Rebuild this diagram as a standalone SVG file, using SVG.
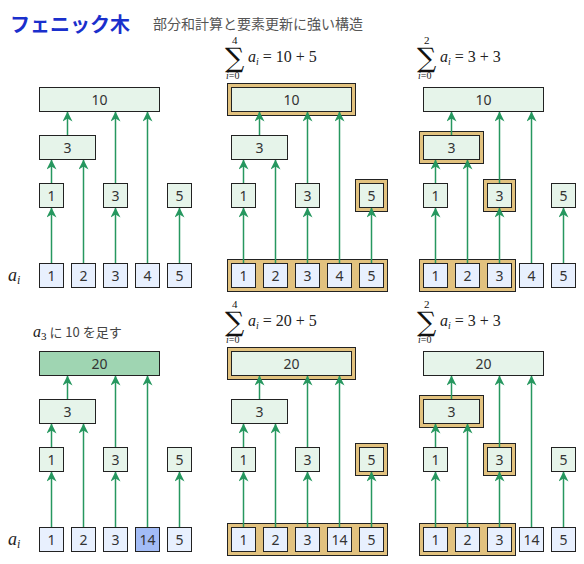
<svg xmlns="http://www.w3.org/2000/svg" width="584" height="564" viewBox="0 0 584 564">
<defs>
<marker id="ah" viewBox="0 0 10 10" refX="10" refY="5" markerWidth="10" markerHeight="10" markerUnits="userSpaceOnUse" orient="auto">
<path d="M0,0 L10,5 L0,10 L3,5 z" fill="#26975f"/>
</marker>
<style>
.n rect{fill:#e6f4ea;stroke:#222;stroke-width:1}
.lf rect{fill:#e8f0fe;stroke:#222;stroke-width:1}
.lf.hot rect{fill:#a3bcf6}
.n.hot rect{fill:#9fd5b2}
.n text,.lf text{font-family:"Noto Sans","DejaVu Sans",sans-serif;font-size:14px;fill:#333;text-anchor:middle}
.hl{fill:#e2c27f;stroke:#222;stroke-width:1}
.c line{stroke:#26975f;stroke-width:1.5;marker-end:url(#ah)}
.m{font-family:"Liberation Serif","DejaVu Serif",serif;fill:#111}
.sg{font-family:"DejaVu Serif",serif;fill:#111}
.mi{font-family:"Liberation Serif","DejaVu Serif",serif;font-style:italic;fill:#222}
.up{font-style:normal}
</style>
</defs>
<rect width="584" height="564" fill="#fff"/>
<text x="10" y="32" font-family="'Noto Sans CJK JP',sans-serif" font-size="20" font-weight="bold" fill="#1a2fcc">フェニック木</text>
<text x="153" y="29" font-family="'Noto Sans CJK JP',sans-serif" font-size="14" fill="#555">部分和計算と要素更新に強い構造</text>

<text class="mi" x="8" y="281" font-size="18">a<tspan font-size="12" dy="3">i</tspan></text>
<text class="mi" x="8" y="545" font-size="18">a<tspan font-size="12" dy="3">i</tspan></text>

<text x="33" y="337" font-family="'Noto Sans CJK JP',sans-serif" font-size="13" fill="#444"><tspan class="mi" font-size="16">a</tspan><tspan class="m" font-size="11" dy="3">3</tspan><tspan dy="-3"> に 10 を足す</tspan></text>

<g id="math1">
<text class="sg" x="225" y="67" font-size="27">∑</text>
<text class="m" x="232" y="44" font-size="11">4</text>
<text class="mi" x="226" y="79" font-size="10">i<tspan class="up">=0</tspan></text>
<text class="mi" x="248" y="62" font-size="16">a<tspan font-size="10" dy="3">i</tspan><tspan class="up" dy="-3" dx="4">= 10 + 5</tspan></text>
</g>
<g id="math2">
<text class="sg" x="417" y="67" font-size="27">∑</text>
<text class="m" x="424" y="44" font-size="11">2</text>
<text class="mi" x="418" y="79" font-size="10">i<tspan class="up">=0</tspan></text>
<text class="mi" x="440" y="62" font-size="16">a<tspan font-size="10" dy="3">i</tspan><tspan class="up" dy="-3" dx="4">= 3 + 3</tspan></text>
</g>
<g id="math3">
<text class="sg" x="225" y="331" font-size="27">∑</text>
<text class="m" x="232" y="308" font-size="11">4</text>
<text class="mi" x="226" y="343" font-size="10">i<tspan class="up">=0</tspan></text>
<text class="mi" x="248" y="326" font-size="16">a<tspan font-size="10" dy="3">i</tspan><tspan class="up" dy="-3" dx="4">= 20 + 5</tspan></text>
</g>
<g id="math4">
<text class="sg" x="417" y="331" font-size="27">∑</text>
<text class="m" x="424" y="308" font-size="11">2</text>
<text class="mi" x="418" y="343" font-size="10">i<tspan class="up">=0</tspan></text>
<text class="mi" x="440" y="326" font-size="16">a<tspan font-size="10" dy="3">i</tspan><tspan class="up" dy="-3" dx="4">= 3 + 3</tspan></text>
</g>

<!-- highlights -->
<g id="highlights">
<rect class="hl" x="227.5" y="83.5" width="128" height="32"/>
<rect class="hl" x="355.5" y="179.5" width="32" height="32"/>
<rect class="hl" x="227.5" y="259.5" width="160" height="32"/>
<rect class="hl" x="419.5" y="131.5" width="64" height="32"/>
<rect class="hl" x="483.5" y="179.5" width="32" height="32"/>
<rect class="hl" x="419.5" y="259.5" width="96" height="32"/>
<rect class="hl" x="227.5" y="347.5" width="128" height="32"/>
<rect class="hl" x="355.5" y="443.5" width="32" height="32"/>
<rect class="hl" x="227.5" y="523.5" width="160" height="32"/>
<rect class="hl" x="419.5" y="395.5" width="64" height="32"/>
<rect class="hl" x="483.5" y="443.5" width="32" height="32"/>
<rect class="hl" x="419.5" y="523.5" width="96" height="32"/>
</g>

<!-- connectors -->
<g id="connectors" class="c">
<g transform="translate(0,0)">
<line x1="51.5" y1="263.5" x2="51.5" y2="207.5"/><line x1="51.5" y1="183.5" x2="51.5" y2="159.5"/><line x1="83.5" y1="263.5" x2="83.5" y2="159.5"/><line x1="67.5" y1="135.5" x2="67.5" y2="111.5"/><line x1="115.5" y1="263.5" x2="115.5" y2="207.5"/><line x1="115.5" y1="183.5" x2="115.5" y2="111.5"/><line x1="147.5" y1="263.5" x2="147.5" y2="111.5"/><line x1="179.5" y1="263.5" x2="179.5" y2="207.5"/>
</g>
<g transform="translate(192,0)">
<line x1="51.5" y1="263.5" x2="51.5" y2="207.5"/><line x1="51.5" y1="183.5" x2="51.5" y2="159.5"/><line x1="83.5" y1="263.5" x2="83.5" y2="159.5"/><line x1="67.5" y1="135.5" x2="67.5" y2="111.5"/><line x1="115.5" y1="263.5" x2="115.5" y2="207.5"/><line x1="115.5" y1="183.5" x2="115.5" y2="111.5"/><line x1="147.5" y1="263.5" x2="147.5" y2="111.5"/><line x1="179.5" y1="263.5" x2="179.5" y2="207.5"/>
</g>
<g transform="translate(384,0)">
<line x1="51.5" y1="263.5" x2="51.5" y2="207.5"/><line x1="51.5" y1="183.5" x2="51.5" y2="159.5"/><line x1="83.5" y1="263.5" x2="83.5" y2="159.5"/><line x1="67.5" y1="135.5" x2="67.5" y2="111.5"/><line x1="115.5" y1="263.5" x2="115.5" y2="207.5"/><line x1="115.5" y1="183.5" x2="115.5" y2="111.5"/><line x1="147.5" y1="263.5" x2="147.5" y2="111.5"/><line x1="179.5" y1="263.5" x2="179.5" y2="207.5"/>
</g>
<g transform="translate(0,264)">
<line x1="51.5" y1="263.5" x2="51.5" y2="207.5"/><line x1="51.5" y1="183.5" x2="51.5" y2="159.5"/><line x1="83.5" y1="263.5" x2="83.5" y2="159.5"/><line x1="67.5" y1="135.5" x2="67.5" y2="111.5"/><line x1="115.5" y1="263.5" x2="115.5" y2="207.5"/><line x1="115.5" y1="183.5" x2="115.5" y2="111.5"/><line x1="147.5" y1="263.5" x2="147.5" y2="111.5"/><line x1="179.5" y1="263.5" x2="179.5" y2="207.5"/>
</g>
<g transform="translate(192,264)">
<line x1="51.5" y1="263.5" x2="51.5" y2="207.5"/><line x1="51.5" y1="183.5" x2="51.5" y2="159.5"/><line x1="83.5" y1="263.5" x2="83.5" y2="159.5"/><line x1="67.5" y1="135.5" x2="67.5" y2="111.5"/><line x1="115.5" y1="263.5" x2="115.5" y2="207.5"/><line x1="115.5" y1="183.5" x2="115.5" y2="111.5"/><line x1="147.5" y1="263.5" x2="147.5" y2="111.5"/><line x1="179.5" y1="263.5" x2="179.5" y2="207.5"/>
</g>
<g transform="translate(384,264)">
<line x1="51.5" y1="263.5" x2="51.5" y2="207.5"/><line x1="51.5" y1="183.5" x2="51.5" y2="159.5"/><line x1="83.5" y1="263.5" x2="83.5" y2="159.5"/><line x1="67.5" y1="135.5" x2="67.5" y2="111.5"/><line x1="115.5" y1="263.5" x2="115.5" y2="207.5"/><line x1="115.5" y1="183.5" x2="115.5" y2="111.5"/><line x1="147.5" y1="263.5" x2="147.5" y2="111.5"/><line x1="179.5" y1="263.5" x2="179.5" y2="207.5"/>
</g>
</g>

<!-- panel 1 -->
<g transform="translate(0,0)">
<g id="p1-top" class="n"><rect x="39.5" y="87.5" width="120" height="24"/><text x="99.5" y="104.5">10</text></g>
<g id="p1-mid" class="n"><rect x="39.5" y="135.5" width="56" height="24"/><text x="67.5" y="152.5">3</text></g>
<g id="p1-b1" class="n"><rect x="39.5" y="183.5" width="24" height="24"/><text x="51.5" y="200.5">1</text></g>
<g id="p1-b3" class="n"><rect x="103.5" y="183.5" width="24" height="24"/><text x="115.5" y="200.5">3</text></g>
<g id="p1-b5" class="n"><rect x="167.5" y="183.5" width="24" height="24"/><text x="179.5" y="200.5">5</text></g>
<g id="p1-a0" class="lf"><rect x="39.5" y="263.5" width="24" height="24"/><text x="51.5" y="280.5">1</text></g>
<g id="p1-a1" class="lf"><rect x="71.5" y="263.5" width="24" height="24"/><text x="83.5" y="280.5">2</text></g>
<g id="p1-a2" class="lf"><rect x="103.5" y="263.5" width="24" height="24"/><text x="115.5" y="280.5">3</text></g>
<g id="p1-a3" class="lf"><rect x="135.5" y="263.5" width="24" height="24"/><text x="147.5" y="280.5">4</text></g>
<g id="p1-a4" class="lf"><rect x="167.5" y="263.5" width="24" height="24"/><text x="179.5" y="280.5">5</text></g>
</g>
<!-- panel 2 -->
<g transform="translate(192,0)">
<g id="p2-top" class="n"><rect x="39.5" y="87.5" width="120" height="24"/><text x="99.5" y="104.5">10</text></g>
<g id="p2-mid" class="n"><rect x="39.5" y="135.5" width="56" height="24"/><text x="67.5" y="152.5">3</text></g>
<g id="p2-b1" class="n"><rect x="39.5" y="183.5" width="24" height="24"/><text x="51.5" y="200.5">1</text></g>
<g id="p2-b3" class="n"><rect x="103.5" y="183.5" width="24" height="24"/><text x="115.5" y="200.5">3</text></g>
<g id="p2-b5" class="n"><rect x="167.5" y="183.5" width="24" height="24"/><text x="179.5" y="200.5">5</text></g>
<g id="p2-a0" class="lf"><rect x="39.5" y="263.5" width="24" height="24"/><text x="51.5" y="280.5">1</text></g>
<g id="p2-a1" class="lf"><rect x="71.5" y="263.5" width="24" height="24"/><text x="83.5" y="280.5">2</text></g>
<g id="p2-a2" class="lf"><rect x="103.5" y="263.5" width="24" height="24"/><text x="115.5" y="280.5">3</text></g>
<g id="p2-a3" class="lf"><rect x="135.5" y="263.5" width="24" height="24"/><text x="147.5" y="280.5">4</text></g>
<g id="p2-a4" class="lf"><rect x="167.5" y="263.5" width="24" height="24"/><text x="179.5" y="280.5">5</text></g>
</g>
<!-- panel 3 -->
<g transform="translate(384,0)">
<g id="p3-top" class="n"><rect x="39.5" y="87.5" width="120" height="24"/><text x="99.5" y="104.5">10</text></g>
<g id="p3-mid" class="n"><rect x="39.5" y="135.5" width="56" height="24"/><text x="67.5" y="152.5">3</text></g>
<g id="p3-b1" class="n"><rect x="39.5" y="183.5" width="24" height="24"/><text x="51.5" y="200.5">1</text></g>
<g id="p3-b3" class="n"><rect x="103.5" y="183.5" width="24" height="24"/><text x="115.5" y="200.5">3</text></g>
<g id="p3-b5" class="n"><rect x="167.5" y="183.5" width="24" height="24"/><text x="179.5" y="200.5">5</text></g>
<g id="p3-a0" class="lf"><rect x="39.5" y="263.5" width="24" height="24"/><text x="51.5" y="280.5">1</text></g>
<g id="p3-a1" class="lf"><rect x="71.5" y="263.5" width="24" height="24"/><text x="83.5" y="280.5">2</text></g>
<g id="p3-a2" class="lf"><rect x="103.5" y="263.5" width="24" height="24"/><text x="115.5" y="280.5">3</text></g>
<g id="p3-a3" class="lf"><rect x="135.5" y="263.5" width="24" height="24"/><text x="147.5" y="280.5">4</text></g>
<g id="p3-a4" class="lf"><rect x="167.5" y="263.5" width="24" height="24"/><text x="179.5" y="280.5">5</text></g>
</g>
<!-- panel 4 -->
<g transform="translate(0,264)">
<g id="p4-top" class="n hot"><rect x="39.5" y="87.5" width="120" height="24"/><text x="99.5" y="104.5">20</text></g>
<g id="p4-mid" class="n"><rect x="39.5" y="135.5" width="56" height="24"/><text x="67.5" y="152.5">3</text></g>
<g id="p4-b1" class="n"><rect x="39.5" y="183.5" width="24" height="24"/><text x="51.5" y="200.5">1</text></g>
<g id="p4-b3" class="n"><rect x="103.5" y="183.5" width="24" height="24"/><text x="115.5" y="200.5">3</text></g>
<g id="p4-b5" class="n"><rect x="167.5" y="183.5" width="24" height="24"/><text x="179.5" y="200.5">5</text></g>
<g id="p4-a0" class="lf"><rect x="39.5" y="263.5" width="24" height="24"/><text x="51.5" y="280.5">1</text></g>
<g id="p4-a1" class="lf"><rect x="71.5" y="263.5" width="24" height="24"/><text x="83.5" y="280.5">2</text></g>
<g id="p4-a2" class="lf"><rect x="103.5" y="263.5" width="24" height="24"/><text x="115.5" y="280.5">3</text></g>
<g id="p4-a3" class="lf hot"><rect x="135.5" y="263.5" width="24" height="24"/><text x="147.5" y="280.5">14</text></g>
<g id="p4-a4" class="lf"><rect x="167.5" y="263.5" width="24" height="24"/><text x="179.5" y="280.5">5</text></g>
</g>
<!-- panel 5 -->
<g transform="translate(192,264)">
<g id="p5-top" class="n"><rect x="39.5" y="87.5" width="120" height="24"/><text x="99.5" y="104.5">20</text></g>
<g id="p5-mid" class="n"><rect x="39.5" y="135.5" width="56" height="24"/><text x="67.5" y="152.5">3</text></g>
<g id="p5-b1" class="n"><rect x="39.5" y="183.5" width="24" height="24"/><text x="51.5" y="200.5">1</text></g>
<g id="p5-b3" class="n"><rect x="103.5" y="183.5" width="24" height="24"/><text x="115.5" y="200.5">3</text></g>
<g id="p5-b5" class="n"><rect x="167.5" y="183.5" width="24" height="24"/><text x="179.5" y="200.5">5</text></g>
<g id="p5-a0" class="lf"><rect x="39.5" y="263.5" width="24" height="24"/><text x="51.5" y="280.5">1</text></g>
<g id="p5-a1" class="lf"><rect x="71.5" y="263.5" width="24" height="24"/><text x="83.5" y="280.5">2</text></g>
<g id="p5-a2" class="lf"><rect x="103.5" y="263.5" width="24" height="24"/><text x="115.5" y="280.5">3</text></g>
<g id="p5-a3" class="lf"><rect x="135.5" y="263.5" width="24" height="24"/><text x="147.5" y="280.5">14</text></g>
<g id="p5-a4" class="lf"><rect x="167.5" y="263.5" width="24" height="24"/><text x="179.5" y="280.5">5</text></g>
</g>
<!-- panel 6 -->
<g transform="translate(384,264)">
<g id="p6-top" class="n"><rect x="39.5" y="87.5" width="120" height="24"/><text x="99.5" y="104.5">20</text></g>
<g id="p6-mid" class="n"><rect x="39.5" y="135.5" width="56" height="24"/><text x="67.5" y="152.5">3</text></g>
<g id="p6-b1" class="n"><rect x="39.5" y="183.5" width="24" height="24"/><text x="51.5" y="200.5">1</text></g>
<g id="p6-b3" class="n"><rect x="103.5" y="183.5" width="24" height="24"/><text x="115.5" y="200.5">3</text></g>
<g id="p6-b5" class="n"><rect x="167.5" y="183.5" width="24" height="24"/><text x="179.5" y="200.5">5</text></g>
<g id="p6-a0" class="lf"><rect x="39.5" y="263.5" width="24" height="24"/><text x="51.5" y="280.5">1</text></g>
<g id="p6-a1" class="lf"><rect x="71.5" y="263.5" width="24" height="24"/><text x="83.5" y="280.5">2</text></g>
<g id="p6-a2" class="lf"><rect x="103.5" y="263.5" width="24" height="24"/><text x="115.5" y="280.5">3</text></g>
<g id="p6-a3" class="lf"><rect x="135.5" y="263.5" width="24" height="24"/><text x="147.5" y="280.5">14</text></g>
<g id="p6-a4" class="lf"><rect x="167.5" y="263.5" width="24" height="24"/><text x="179.5" y="280.5">5</text></g>
</g>
</svg>
